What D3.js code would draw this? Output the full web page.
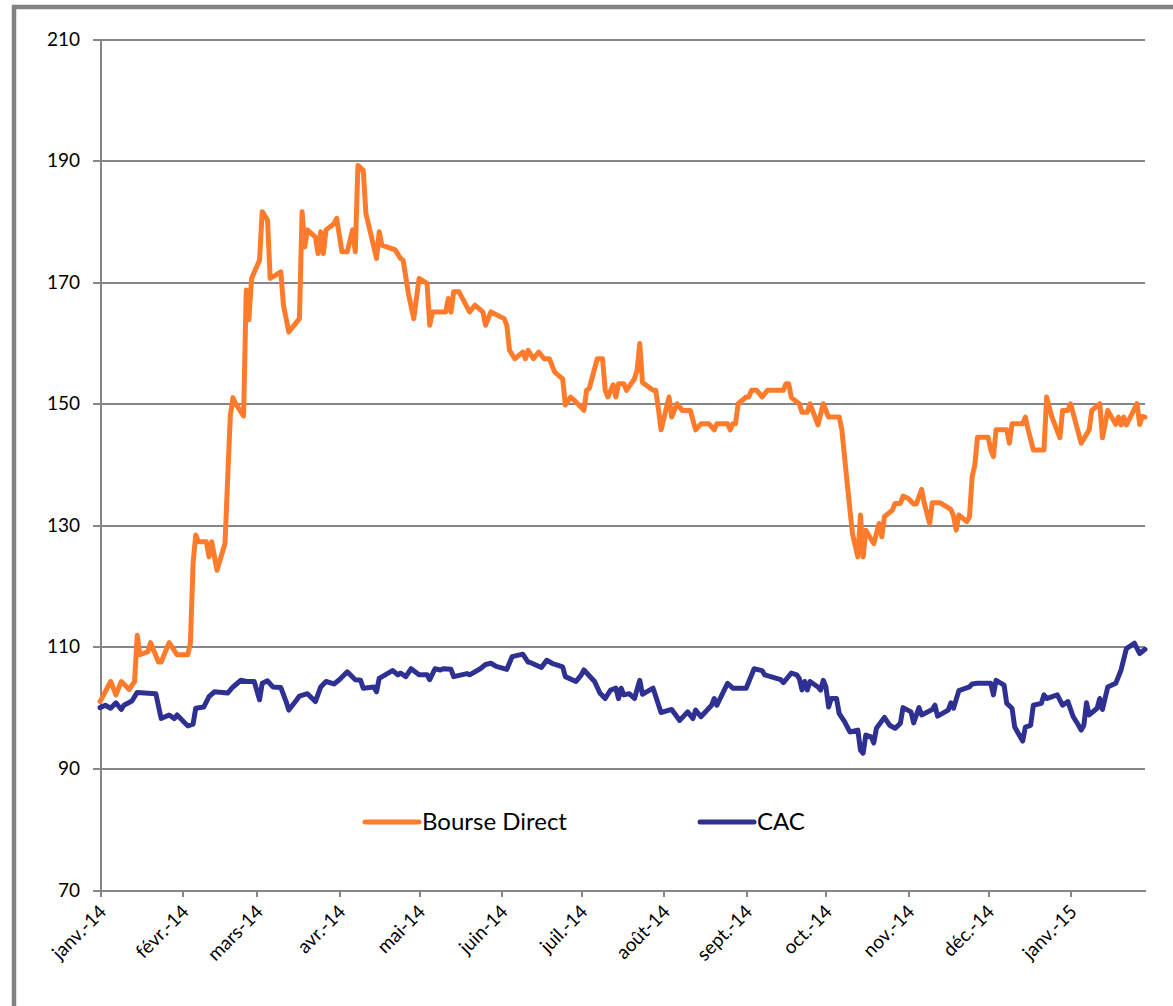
<!DOCTYPE html>
<html lang="fr">
<head>
<meta charset="utf-8">
<title>Bourse Direct vs CAC</title>
<script src="https://d3js.org/d3.v7.min.js"></script>
<style>
  body { margin: 0; background: #fff; }
  .axis path, .axis line { stroke: #868686; stroke-width: 2; shape-rendering: crispEdges; }
  .axis text { font-family: Lato, sans-serif; font-size: 19px; fill: #000; }
  .grid line { stroke: #868686; stroke-width: 2; shape-rendering: crispEdges; }
  .grid path { display: none; }
  .legend text { font-family: Lato, sans-serif; font-size: 24px; fill: #000; }
</style>
<script>
  // Base 100 au 1er janvier 2014
  const bourseDirect = [
    ["2014-01-01",101.0],["2014-01-05",104.3],["2014-01-07",102.1],["2014-01-09",104.3],["2014-01-12",103.0],
    ["2014-01-14",104.3],["2014-01-15",111.9],["2014-01-16",108.7],["2014-01-19",109.2],["2014-01-20",110.7],
    ["2014-01-23",107.5],["2014-01-24",107.5],["2014-01-27",110.7],["2014-01-30",108.7],["2014-02-03",108.7],
    ["2014-02-04",110.6],["2014-02-05",123.7],["2014-02-06",128.4],["2014-02-07",127.3],["2014-02-10",127.3],
    ["2014-02-11",124.8],["2014-02-12",127.3],["2014-02-14",122.6],["2014-02-17",127.0],["2014-02-19",148.0],
    ["2014-02-20",151.0],["2014-02-21",150.0],["2014-02-24",148.0],["2014-02-25",168.7],["2014-02-26",163.8],
    ["2014-02-27",170.6],["2014-03-02",173.6],["2014-03-03",181.6],["2014-03-05",180.2],["2014-03-06",170.6],
    ["2014-03-10",171.7],["2014-03-11",166.2],["2014-03-12",164.0],["2014-03-13",161.8],["2014-03-17",164.0],
    ["2014-03-18",181.6],["2014-03-19",175.8],["2014-03-20",178.6],["2014-03-23",177.4],["2014-03-24",174.7],
    ["2014-03-25",178.3],["2014-03-26",174.7],["2014-03-27",178.6],["2014-03-30",179.6],["2014-03-31",180.5],
    ["2014-04-02",175.0],["2014-04-04",175.0],["2014-04-06",178.6],["2014-04-07",175.0],["2014-04-08",189.2],
    ["2014-04-10",188.4],["2014-04-11",181.3],["2014-04-15",173.9],["2014-04-16",178.3],["2014-04-17",176.1],
    ["2014-04-22",175.3],["2014-04-24",173.9],["2014-04-25",173.6],["2014-04-27",168.1],["2014-04-29",164.0],
    ["2014-05-01",170.6],["2014-05-04",169.8],["2014-05-05",162.9],["2014-05-06",165.1],["2014-05-11",165.1],
    ["2014-05-12",167.3],["2014-05-13",165.1],["2014-05-14",168.4],["2014-05-16",168.4],["2014-05-20",165.1],
    ["2014-05-22",166.2],["2014-05-25",165.1],["2014-05-26",162.9],["2014-05-28",165.1],["2014-06-02",164.0],
    ["2014-06-03",162.9],["2014-06-04",158.8],["2014-06-06",157.4],["2014-06-09",158.5],["2014-06-10",157.4],
    ["2014-06-11",158.8],["2014-06-13",157.4],["2014-06-15",158.5],["2014-06-17",157.4],["2014-06-19",157.4],
    ["2014-06-21",155.2],["2014-06-24",154.1],["2014-06-25",149.8],["2014-06-27",151.1],["2014-06-29",150.3],
    ["2014-07-02",148.9],["2014-07-03",152.2],["2014-07-04",152.5],["2014-07-07",157.4],["2014-07-09",157.4],
    ["2014-07-10",152.2],["2014-07-11",151.1],["2014-07-13",153.1],["2014-07-14",151.1],["2014-07-15",153.3],
    ["2014-07-17",153.3],["2014-07-18",152.2],["2014-07-21",154.1],["2014-07-22",155.5],["2014-07-23",159.9],
    ["2014-07-24",153.5],["2014-07-28",152.2],["2014-07-29",152.2],["2014-07-30",149.2],["2014-07-31",145.7],
    ["2014-08-03",151.1],["2014-08-04",147.8],["2014-08-06",150.0],["2014-08-08",148.9],["2014-08-11",148.9],
    ["2014-08-13",145.7],["2014-08-15",146.7],["2014-08-18",146.7],["2014-08-20",145.7],["2014-08-21",146.7],
    ["2014-08-25",146.7],["2014-08-26",145.7],["2014-08-27",146.7],["2014-08-28",146.7],["2014-08-29",150.0],
    ["2014-09-01",151.1],["2014-09-02",151.1],["2014-09-03",152.2],["2014-09-05",152.2],["2014-09-07",151.1],
    ["2014-09-09",152.2],["2014-09-15",152.2],["2014-09-16",153.3],["2014-09-17",153.3],["2014-09-18",151.0],
    ["2014-09-21",150.0],["2014-09-22",148.6],["2014-09-24",148.6],["2014-09-25",150.0],["2014-09-28",146.5],
    ["2014-09-30",150.0],["2014-10-02",147.8],["2014-10-06",147.8],["2014-10-07",145.7],["2014-10-09",136.9],
    ["2014-10-11",128.6],["2014-10-13",124.8],["2014-10-14",131.7],["2014-10-15",124.8],["2014-10-16",129.2],
    ["2014-10-17",128.4],["2014-10-19",127.0],["2014-10-21",130.3],["2014-10-22",128.1],["2014-10-23",131.4],
    ["2014-10-26",132.5],["2014-10-27",133.6],["2014-10-29",133.6],["2014-10-30",134.8],["2014-11-01",134.4],
    ["2014-11-03",133.5],["2014-11-04",133.5],["2014-11-06",135.9],["2014-11-07",133.6],["2014-11-09",130.3],
    ["2014-11-10",133.7],["2014-11-13",133.7],["2014-11-17",132.6],["2014-11-18",131.5],["2014-11-19",129.2],
    ["2014-11-20",131.7],["2014-11-23",130.6],["2014-11-24",131.4],["2014-11-25",138.0],["2014-11-26",139.9],
    ["2014-11-27",144.5],["2014-12-01",144.5],["2014-12-02",142.4],["2014-12-03",141.3],["2014-12-04",145.7],
    ["2014-12-08",145.7],["2014-12-09",143.5],["2014-12-10",146.7],["2014-12-14",146.7],["2014-12-15",147.8],
    ["2014-12-16",145.8],["2014-12-18",142.4],["2014-12-22",142.4],["2014-12-23",151.1],["2014-12-25",147.8],
    ["2014-12-28",144.4],["2014-12-29",148.9],["2014-12-31",148.9],["2015-01-01",150.0],["2015-01-05",143.5],
    ["2015-01-08",145.7],["2015-01-09",148.9],["2015-01-12",150.0],["2015-01-13",144.4],["2015-01-15",148.9],
    ["2015-01-18",146.6],["2015-01-19",147.8],["2015-01-20",146.5],["2015-01-21",147.8],["2015-01-22",146.5],
    ["2015-01-26",150.0],["2015-01-27",146.6],["2015-01-28",147.9],["2015-01-29",147.8]
  ];

  const cac = [
    ["2014-01-01",100.0],["2014-01-03",100.4],["2014-01-05",99.9],["2014-01-07",100.8],["2014-01-09",99.7],
    ["2014-01-10",100.4],["2014-01-13",101.1],["2014-01-15",102.5],["2014-01-22",102.3],["2014-01-24",98.2],
    ["2014-01-27",98.8],["2014-01-29",98.2],["2014-01-30",98.8],["2014-02-03",97.0],["2014-02-05",97.3],
    ["2014-02-06",99.9],["2014-02-09",100.1],["2014-02-11",101.8],["2014-02-13",102.6],["2014-02-18",102.4],
    ["2014-02-20",103.4],["2014-02-23",104.5],["2014-02-25",104.3],["2014-02-28",104.3],["2014-03-02",101.3],
    ["2014-03-03",104.0],["2014-03-05",104.4],["2014-03-07",103.4],["2014-03-10",103.3],["2014-03-12",101.0],
    ["2014-03-13",99.6],["2014-03-16",101.3],["2014-03-17",101.9],["2014-03-20",102.3],["2014-03-23",101.0],
    ["2014-03-25",103.4],["2014-03-27",104.3],["2014-03-30",103.9],["2014-04-01",104.6],["2014-04-04",105.9],
    ["2014-04-07",104.6],["2014-04-09",104.5],["2014-04-10",103.2],["2014-04-14",103.4],["2014-04-15",102.6],
    ["2014-04-16",104.8],["2014-04-21",106.1],["2014-04-23",105.4],["2014-04-24",105.7],["2014-04-26",105.1],
    ["2014-04-28",106.4],["2014-05-01",105.4],["2014-05-04",105.4],["2014-05-05",104.6],["2014-05-07",106.4],
    ["2014-05-09",106.2],["2014-05-10",106.4],["2014-05-13",106.3],["2014-05-14",105.1],["2014-05-19",105.6],
    ["2014-05-20",105.4],["2014-05-24",106.4],["2014-05-26",107.1],["2014-05-28",107.3],["2014-05-30",106.8],
    ["2014-06-03",106.3],["2014-06-05",108.4],["2014-06-07",108.6],["2014-06-09",108.8],["2014-06-11",107.5],
    ["2014-06-12",107.4],["2014-06-16",106.6],["2014-06-18",107.8],["2014-06-20",107.3],["2014-06-24",106.7],
    ["2014-06-25",105.1],["2014-06-29",104.3],["2014-07-01",105.4],["2014-07-02",106.2],["2014-07-06",104.3],
    ["2014-07-08",102.4],["2014-07-10",101.5],["2014-07-12",102.9],["2014-07-14",103.2],["2014-07-15",101.5],
    ["2014-07-16",103.2],["2014-07-17",102.1],["2014-07-19",102.3],["2014-07-21",101.5],["2014-07-23",104.5],
    ["2014-07-24",102.2],["2014-07-28",103.2],["2014-07-31",99.2],["2014-08-04",99.7],["2014-08-07",97.9],
    ["2014-08-10",99.3],["2014-08-12",98.2],["2014-08-13",99.6],["2014-08-15",98.5],["2014-08-19",100.4],
    ["2014-08-20",101.5],["2014-08-21",100.4],["2014-08-25",104.0],["2014-08-27",103.2],["2014-09-01",103.2],
    ["2014-09-04",106.4],["2014-09-07",106.1],["2014-09-08",105.4],["2014-09-14",104.6],["2014-09-15",104.1],
    ["2014-09-18",105.7],["2014-09-20",105.4],["2014-09-21",104.8],["2014-09-22",102.9],["2014-09-23",104.3],
    ["2014-09-24",102.9],["2014-09-25",104.3],["2014-09-28",103.4],["2014-09-29",102.9],["2014-09-30",104.5],
    ["2014-10-01",103.4],["2014-10-02",100.1],["2014-10-03",101.5],["2014-10-05",101.5],["2014-10-06",99.0],
    ["2014-10-08",97.7],["2014-10-10",96.0],["2014-10-13",96.3],["2014-10-14",93.0],["2014-10-15",92.5],
    ["2014-10-16",95.5],["2014-10-18",95.2],["2014-10-19",94.2],["2014-10-20",96.6],["2014-10-23",98.4],
    ["2014-10-25",97.1],["2014-10-27",96.6],["2014-10-29",97.4],["2014-10-30",100.0],["2014-11-02",99.3],
    ["2014-11-03",97.5],["2014-11-05",100.0],["2014-11-06",98.8],["2014-11-10",99.7],["2014-11-11",100.4],
    ["2014-11-12",98.6],["2014-11-16",99.6],["2014-11-17",100.8],["2014-11-18",99.9],["2014-11-20",102.8],
    ["2014-11-24",103.4],["2014-11-25",103.9],["2014-11-27",104.0],["2014-12-02",104.0],["2014-12-03",102.1],
    ["2014-12-04",104.5],["2014-12-07",103.7],["2014-12-08",100.7],["2014-12-10",99.9],["2014-12-11",96.8],
    ["2014-12-14",94.5],["2014-12-15",96.8],["2014-12-17",97.1],["2014-12-18",100.4],["2014-12-21",100.7],
    ["2014-12-22",102.1],["2014-12-23",101.5],["2014-12-27",102.1],["2014-12-29",100.4],["2014-12-31",101.0],
    ["2015-01-02",98.5],["2015-01-04",97.1],["2015-01-05",96.3],["2015-01-06",97.1],["2015-01-07",100.8],
    ["2015-01-08",98.8],["2015-01-11",99.9],["2015-01-12",101.5],["2015-01-13",99.7],["2015-01-15",103.4],
    ["2015-01-18",104.0],["2015-01-20",106.2],["2015-01-22",109.7],["2015-01-25",110.6],["2015-01-27",108.9],
    ["2015-01-29",109.6]
  ];

  const yTicks = [70, 90, 110, 130, 150, 170, 190, 210];
  const monthDates = ["2014-01-01","2014-02-01","2014-03-01","2014-04-01","2014-05-01","2014-06-01","2014-07-01",
                      "2014-08-01","2014-09-01","2014-10-01","2014-11-01","2014-12-01","2015-01-01"];
  const monthLabels = ["janv.-14","févr.-14","mars-14","avr.-14","mai-14","juin-14","juil.-14",
                       "août-14","sept.-14","oct.-14","nov.-14","déc.-14","janv.-15"];
  const seriesNames = ["Bourse Direct", "CAC"];
  const seriesColors = ["#FF7B2C", "#2E3192"];
</script>
</head>
<body>
<div id="chart"></div>
<script>
  const width = 1173, height = 1006;
  const plotLeft = 100, plotRight = 1145, plotTop = 39, plotBottom = 890;
  const parse = d3.utcParse("%Y-%m-%d");

  const svg = d3.select("#chart").append("svg")
    .attr("width", width)
    .attr("height", height);

  svg.append("rect").attr("width", width).attr("height", height).attr("fill", "#fff");

  // cadre gris autour du graphique
  svg.append("rect")
    .attr("x", 14).attr("y", 7)
    .attr("width", width + 20).attr("height", height + 20)
    .attr("fill", "none")
    .attr("stroke", "#828282")
    .attr("stroke-width", 4.5);

  const x = d3.scaleUtc()
    .domain([parse("2014-01-01"), parse("2015-01-29")])
    .range([plotLeft, plotRight]);

  const y = d3.scaleLinear()
    .domain([70, 210])
    .range([plotBottom, plotTop]);

  // gridlines
  svg.append("g")
    .attr("class", "grid")
    .attr("transform", `translate(${plotLeft},0)`)
    .call(d3.axisLeft(y).tickValues(yTicks.slice(1)).tickSize(-(plotRight - plotLeft)).tickFormat(""));

  // Y axis
  svg.append("g")
    .attr("class", "axis")
    .attr("transform", `translate(${plotLeft},0)`)
    .call(d3.axisLeft(y).tickValues(yTicks).tickSize(7).tickSizeOuter(0).tickPadding(13));

  // X axis
  const xAxis = svg.append("g")
    .attr("class", "axis")
    .attr("transform", `translate(0,${plotBottom})`)
    .call(d3.axisBottom(x)
      .tickValues(monthDates.map(parse))
      .tickSize(7)
      .tickSizeOuter(0)
      .tickFormat((d, i) => monthLabels[i]));

  xAxis.selectAll("text")
    .attr("text-anchor", "end")
    .attr("dy", null)
    .attr("y", 0)
    .attr("transform", "translate(7,23) rotate(-45)");

  // lines
  const line = d3.line()
    .x(d => x(parse(d[0])))
    .y(d => y(d[1]));

  [bourseDirect, cac].forEach((data, i) => {
    svg.append("path")
      .datum(data)
      .attr("fill", "none")
      .attr("stroke", seriesColors[i])
      .attr("stroke-width", 5)
      .attr("stroke-linejoin", "round")
      .attr("stroke-linecap", "round")
      .attr("d", line);
  });

  // legend
  const legendX = [365, 700];
  const legend = svg.append("g").attr("class", "legend");
  seriesNames.forEach((name, i) => {
    legend.append("line")
      .attr("x1", legendX[i]).attr("x2", legendX[i] + 54)
      .attr("y1", 822).attr("y2", 822)
      .attr("stroke", seriesColors[i])
      .attr("stroke-width", 5)
      .attr("stroke-linecap", "round");
    legend.append("text")
      .attr("x", legendX[i] + 57)
      .attr("y", 830)
      .text(name);
  });
</script>
</body>
</html>
